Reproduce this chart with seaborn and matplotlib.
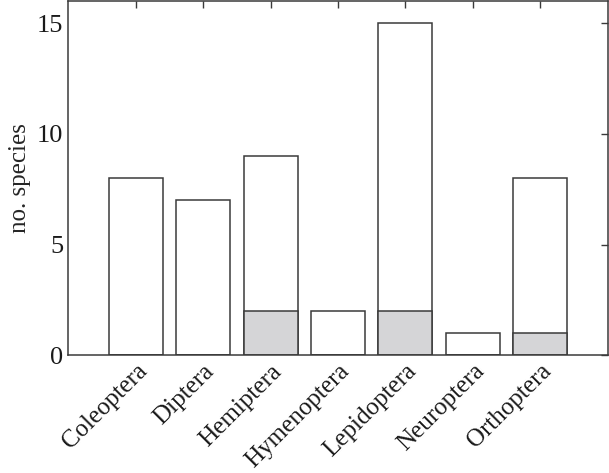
import matplotlib
matplotlib.use("Agg")
import matplotlib.pyplot as plt
import seaborn as sns
import pandas as pd

categories = ["Coleoptera", "Diptera", "Hemiptera", "Hymenoptera",
              "Lepidoptera", "Neuroptera", "Orthoptera"]
total_species = [8, 7, 9, 2, 15, 1, 8]
subset_species = [0, 0, 2, 0, 2, 0, 1]
yticks = [0, 5, 10, 15]

sns.set_style("white")
FAM = ['Liberation Serif', 'DejaVu Serif']
plt.rcParams['font.family'] = FAM

df = pd.DataFrame({"order": categories, "total": total_species, "subset": subset_species})

fig = plt.figure(figsize=(6.09, 4.73), dpi=100)
ax = fig.add_axes([0.112, 0.249, 0.886, 0.749])

edge = "#3a3a3a"
sns.barplot(data=df, x="order", y="total", color="white", edgecolor=edge,
            linewidth=1.1, width=0.8, saturation=1, ax=ax)
sns.barplot(data=df, x="order", y="subset", color="#d5d5d7", edgecolor=edge,
            linewidth=1.1, width=0.8, saturation=1, ax=ax)

ax.set_xlim(-1, 7)
ax.set_ylim(0, 16)
ax.set_yticks(yticks)
ax.set_yticklabels([str(v) for v in yticks], family=FAM, fontsize=19)
ax.set_xticks(range(len(categories)))
ax.set_xticklabels(categories, family=FAM, fontsize=18, rotation=45,
                   ha="right", rotation_mode="anchor")
ax.set_xlabel("")
ax.set_ylabel("no. species", family=FAM, fontsize=18, labelpad=4)
ax.tick_params(direction="in", top=True, right=True, length=5, width=1,
               color=edge, labelcolor="#1a1a1a")
for s in ax.spines.values():
    s.set_color(edge)
    s.set_linewidth(1.1)

fig.savefig("out.png", dpi=100)
